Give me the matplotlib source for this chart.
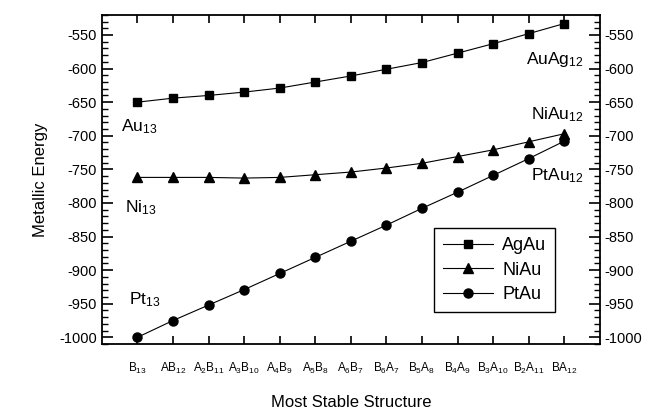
import matplotlib
matplotlib.use("Agg")
import matplotlib.pyplot as plt
from matplotlib.ticker import MultipleLocator

plt.rcParams['font.family'] = ['Liberation Sans', 'DejaVu Sans']
plt.rcParams['mathtext.fontset'] = 'custom'
plt.rcParams['mathtext.rm'] = 'Liberation Sans'
plt.rcParams['mathtext.it'] = 'Liberation Sans:italic'
plt.rcParams['axes.unicode_minus'] = False

structures = ['B$_{13}$', 'AB$_{12}$', 'A$_2$B$_{11}$', 'A$_3$B$_{10}$', 'A$_4$B$_9$',
              'A$_5$B$_8$', 'A$_6$B$_7$', 'B$_6$A$_7$', 'B$_5$A$_8$', 'B$_4$A$_9$',
              'B$_3$A$_{10}$', 'B$_2$A$_{11}$', 'BA$_{12}$']
agau = [-650, -644, -640, -635, -629, -620, -611, -601, -591, -577, -563, -548, -533]
niau = [-762, -762, -762, -763, -762, -758, -754, -748, -741, -731, -721, -709, -697]
ptau = [-1000, -975, -952, -929, -905, -881, -857, -833, -808, -784, -759, -734, -708]

x = list(range(len(structures)))

fig = plt.figure(figsize=(6.45, 4.12), dpi=100)
ax = fig.add_axes([0.158, 0.165, 0.772, 0.799])

ax.plot(x, agau, c='black', lw=0.8, marker='s', ms=6, label='AgAu')
ax.plot(x, niau, c='black', lw=0.8, marker='^', ms=6.5, label='NiAu')
ax.plot(x, ptau, c='black', lw=0.8, marker='o', ms=6.5, label='PtAu')

ax.set_xlim(-1, 13)
ax.set_ylim(-1010, -520)
ax.set_xticks(x)
ax.set_xticklabels(structures, fontsize=8.5)
ax.yaxis.set_major_locator(MultipleLocator(50))
ax.yaxis.set_minor_locator(MultipleLocator(10))
ax.tick_params(axis='y', which='major', direction='in', length=8, width=1.2,
               left=True, right=True, labelleft=True, labelright=True, labelsize=10.5)
ax.tick_params(axis='y', which='minor', direction='in', length=4, width=1,
               left=True, right=True)
ax.tick_params(axis='x', which='major', direction='in', length=6, width=1.2,
               top=True, bottom=True, pad=12)
for s in ax.spines.values():
    s.set_linewidth(1.3)

ax.text(-0.45, -686, 'Au$_{13}$', fontsize=12.5, va='center')
ax.text(-0.36, -807, 'Ni$_{13}$', fontsize=12.5, va='center')
ax.text(-0.25, -944, 'Pt$_{13}$', fontsize=12.5, va='center')
ax.text(12.55, -587, 'AuAg$_{12}$', fontsize=12.5, va='center', ha='right')
ax.text(12.55, -668, 'NiAu$_{12}$', fontsize=12.5, va='center', ha='right')
ax.text(12.55, -760, 'PtAu$_{12}$', fontsize=12.5, va='center', ha='right')

leg = ax.legend(loc='lower left', bbox_to_anchor=(0.648, 0.07), fontsize=13,
                fancybox=False, edgecolor='black', framealpha=1,
                handlelength=2.8, borderpad=0.5, labelspacing=0.4, handletextpad=0.5)
leg.get_frame().set_linewidth(1.0)

ax.set_xlabel('Most Stable Structure', fontsize=12, labelpad=14)
ax.set_ylabel('Metallic Energy', fontsize=12, labelpad=8)

fig.savefig('out.png', dpi=100)
